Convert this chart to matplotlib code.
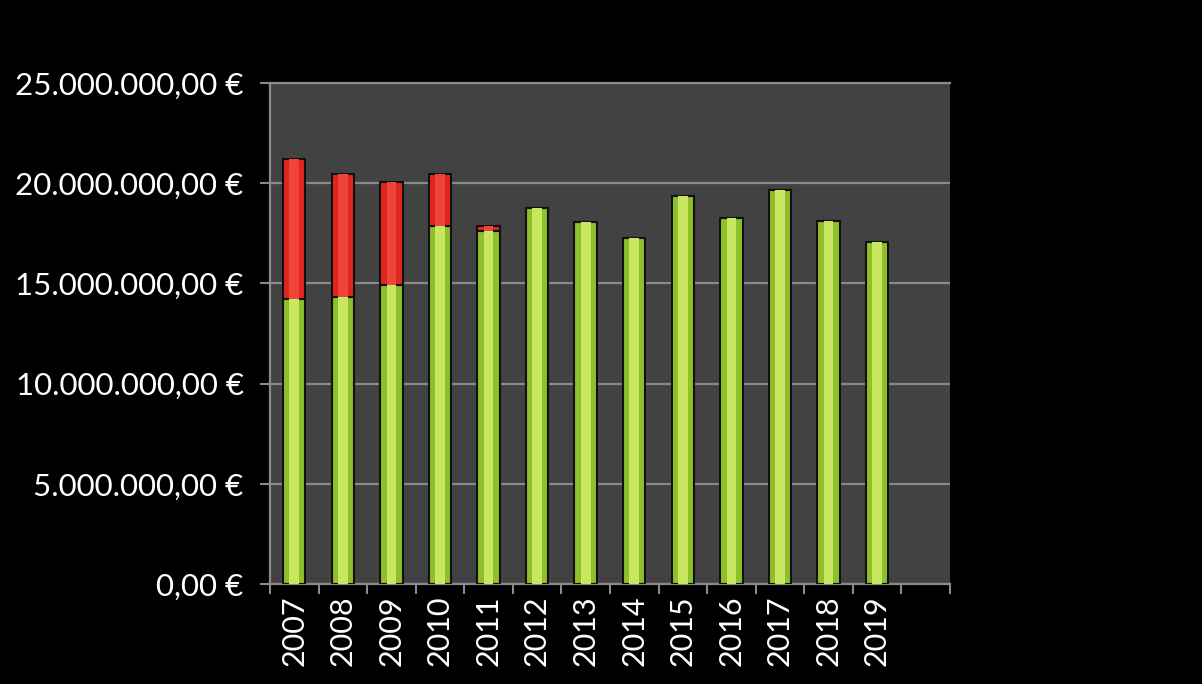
import matplotlib
matplotlib.use("Agg")
import matplotlib.pyplot as plt
from matplotlib.ticker import FuncFormatter, MultipleLocator
import numpy as np

years = ["2007", "2008", "2009", "2010", "2011", "2012", "2013",
         "2014", "2015", "2016", "2017", "2018", "2019"]
green = [14.2, 14.3, 14.9, 17.85, 17.6, 18.75, 18.05,
         17.25, 19.35, 18.25, 19.65, 18.1, 17.05]   # millions EUR
red = [7.0, 6.15, 5.15, 2.6, 0.25, 0, 0, 0, 0, 0, 0, 0, 0]
nSlots = 14

plt.rcParams['font.family'] = ['Lato', 'DejaVu Sans']

def euro(v, pos):
    s = "{:,.2f}".format(v * 1e6)
    s = s.replace(",", "X").replace(".", ",").replace("X", ".")
    return s + " €"

fig = plt.figure(figsize=(12.02, 6.84), dpi=100, facecolor="black")
ax = fig.add_axes([0.2246, 0.1462, 0.5657, 0.7325])
ax.set_facecolor("#424242")

x = np.arange(len(years))
g = np.array(green)
r = np.array(red)

ax.bar(x, g, width=0.46, color="#8fbf2a", edgecolor="#111111", linewidth=1.5, zorder=3)
ax.bar(x, g, width=0.2, color="#c9e660", linewidth=0, zorder=4)
ax.bar(x, r, bottom=g, width=0.46, color="#e1261f", edgecolor="#111111", linewidth=1.5, zorder=3)
ax.bar(x, r, bottom=g, width=0.2, color="#f0443a", linewidth=0, zorder=4)

ax.set_xlim(-0.5, nSlots - 0.5)
ax.set_ylim(0, 25)
ax.yaxis.set_major_locator(MultipleLocator(5))
ax.yaxis.set_major_formatter(FuncFormatter(euro))
ax.grid(True, axis="y", color="#8a8a8a", linewidth=1.6, zorder=1)

ax.set_xticks(x)
ax.set_xticklabels(years, rotation=90)
ax.set_xticks(np.arange(nSlots + 1) - 0.5, minor=True)
ax.tick_params(axis="x", which="major", length=0, pad=8, labelsize=22, labelcolor="white")
ax.tick_params(axis="x", which="minor", length=7, width=1.5, color="#8a8a8a", direction="out")
ax.tick_params(axis="y", length=7, width=1.5, color="#8a8a8a", pad=12, labelsize=22.5, labelcolor="white")

for side in ["left", "bottom", "top"]:
    ax.spines[side].set_color("#8a8a8a")
    ax.spines[side].set_linewidth(1.6)
ax.spines["right"].set_visible(False)

plt.savefig("out.png", dpi=100, facecolor="black")
